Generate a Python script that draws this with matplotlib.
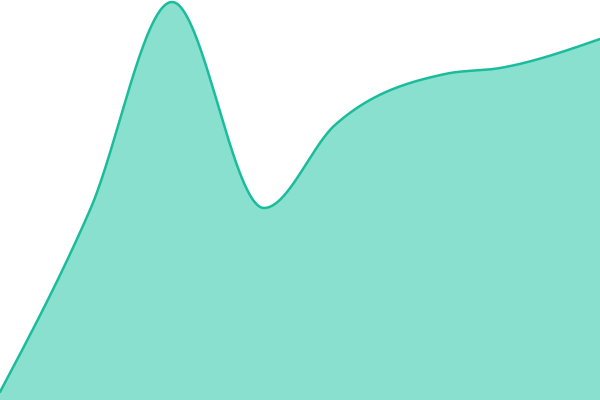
import numpy as np
import matplotlib
matplotlib.use("Agg")
import matplotlib.pyplot as plt

# data (x positions and values)
xs = [0, 90, 172, 264, 335, 445, 500, 600]
values = [8, 190, 398, 192, 275, 326, 332, 361]

def monotone_x(x, y, n=60):
    x = np.asarray(x, float); y = np.asarray(y, float)
    h = np.diff(x); s = np.diff(y) / h
    m = len(x)
    t = np.zeros(m)
    for i in range(1, m - 1):
        p = (s[i-1] * h[i] + s[i] * h[i-1]) / (h[i-1] + h[i])
        t[i] = (np.sign(s[i-1]) + np.sign(s[i])) * min(abs(s[i-1]), abs(s[i]), 0.5 * abs(p)) or 0.0
    t[0] = (3 * s[0] - t[1]) / 2 if m > 2 else s[0]
    t[-1] = (3 * s[-1] - t[-2]) / 2 if m > 2 else s[-1]
    ox, oy = [], []
    for i in range(m - 1):
        u = np.linspace(0, 1, n, endpoint=(i == m - 2))
        x0, x1, y0, y1 = x[i], x[i+1], y[i], y[i+1]
        dx = h[i]
        h00 = 2*u**3 - 3*u**2 + 1
        h10 = u**3 - 2*u**2 + u
        h01 = -2*u**3 + 3*u**2
        h11 = u**3 - u**2
        ox.extend(x0 + u * dx)
        oy.extend(h00*y0 + h10*dx*t[i] + h01*y1 + h11*dx*t[i+1])
    return np.array(ox), np.array(oy)

cx, cy = monotone_x(xs, values)

fig = plt.figure(figsize=(6, 4), dpi=100)
ax = fig.add_axes([0, 0, 1, 1])
ax.fill_between(cx, 0, cy, color="#8ae0cf", linewidth=0)
ax.plot(cx, cy, color="#1abc9c", linewidth=1.8, solid_capstyle="round")
ax.set_xlim(0, 600)
ax.set_ylim(0, 400)
ax.axis("off")
fig.savefig("out.png", dpi=100)
